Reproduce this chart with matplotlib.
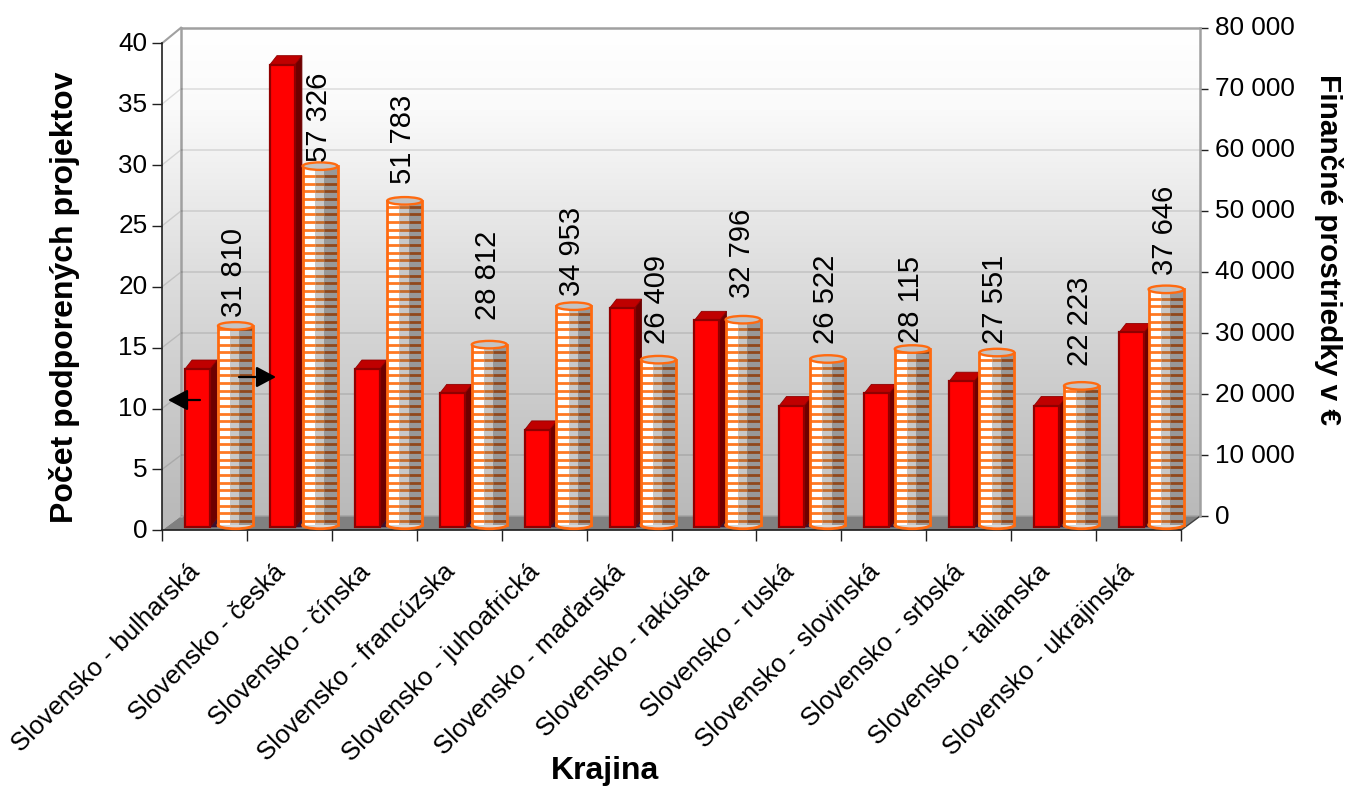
import numpy as np
import matplotlib
matplotlib.use("Agg")
import matplotlib.pyplot as plt
from matplotlib.patches import Polygon, Ellipse
from matplotlib.transforms import Affine2D, ScaledTranslation

categories = ["Slovensko - bulharská", "Slovensko - česká", "Slovensko - čínska",
              "Slovensko - francúzska", "Slovensko - juhoafrická", "Slovensko - maďarská",
              "Slovensko - rakúska", "Slovensko - ruská", "Slovensko - slovinská",
              "Slovensko - srbská", "Slovensko - talianska", "Slovensko - ukrajinská"]
project_counts = [13, 38, 13, 11, 8, 18, 17, 10, 11, 12, 10, 16]
funds_eur = [31810, 57326, 51783, 28812, 34953, 26409, 32796, 26522, 28115, 27551, 22223, 37646]
left_ticks = [0, 5, 10, 15, 20, 25, 30, 35, 40]
right_ticks = [0, 10000, 20000, 30000, 40000, 50000, 60000, 70000, 80000]
left_title = "Počet podporených projektov"
right_title = "Finančné prostriedky v €"
x_title = "Krajina"

# layout (pixels)
W, H = 1345, 787
FX0, FX1, FY0, FY1 = 162, 1181, 530.3, 43.3     # front plane
BX0, BX1, BY0, BY1 = 181, 1200, 516.2, 27.7     # back plane
CY0, CY1 = 525.0, 24.2                          # plane the cylinders stand on
label_bottom_px = [317, 162, 184, 320, 296, 344, 298, 344, 343, 344, 366, 275]

plt.rcParams["font.family"] = ["Liberation Sans", "DejaVu Sans"]
fig = plt.figure(figsize=(W / 100, H / 100), dpi=100, facecolor="white")


def axes_rect(x0, x1, ybot, ytop):
    return [x0 / W, 1 - ybot / H, (x1 - x0) / W, (ybot - ytop) / H]


# pixel canvas for the walls and floor
bg = fig.add_axes([0, 0, 1, 1], zorder=0)
bg.set_xlim(0, W)
bg.set_ylim(H, 0)
bg.axis("off")

ys = np.arange(0, H)
grad = np.interp(ys, [BY1, 110, 270, BY0], [255, 250, 222, 185])
gimg = np.repeat(grad[:, None], 3, axis=1)[:, None, :] / 255
back = bg.imshow(gimg, extent=(0, W, H, 0), aspect="auto", zorder=1, interpolation="bilinear")
back.set_clip_path(Polygon([(FX0, FY1), (BX0, BY1), (BX1, BY1), (BX1, BY0), (BX0, BY0), (FX0, FY0)],
                           transform=bg.transData))
bg.set_xlim(0, W)
bg.set_ylim(H, 0)
bg.add_patch(Polygon([(FX0, FY0), (BX0, BY0), (BX1, BY0), (FX1, FY0)], closed=True,
                     fc="#808080", ec="none", zorder=2))
for t in left_ticks[1:-1]:
    fy = FY0 + (FY1 - FY0) * t / 40
    by = BY0 + (BY1 - BY0) * t / 40
    bg.plot([FX0, BX0], [fy, by], color="black", alpha=0.12, lw=1.0, zorder=2)
bg.plot([FX0, BX0], [FY1, BY1], color="#a0a0a0", lw=1.5, zorder=2)
bg.plot([BX0, BX0], [BY1, BY0], color="#a0a0a0", lw=1.8, zorder=3)
bg.plot([FX1, BX1], [FY0, BY0], color="#404040", lw=1.0, zorder=3)

# back plane: right axis and grid
ax2 = fig.add_axes(axes_rect(BX0, BX1, BY0, BY1), zorder=1)
ax2.patch.set_alpha(0)
ax2.set_xlim(0, 12)
ax2.set_ylim(0, 80000)
ax2.yaxis.tick_right()
ax2.set_yticks(right_ticks)
ax2.set_yticklabels([f"{t:,}".replace(",", " ") for t in right_ticks], fontsize=18.8)
ax2.tick_params(axis="y", length=5.5, width=1.0, color="#202020", pad=5.5)
ax2.set_xticks([])
ax2.grid(axis="y", color="black", alpha=0.12, lw=1.1)
ax2.set_axisbelow(True)
for s in ("left", "bottom"):
    ax2.spines[s].set_visible(False)
ax2.spines["right"].set_color("#a0a0a0")
ax2.spines["right"].set_linewidth(1.8)
ax2.spines["top"].set_color("#a0a0a0")
ax2.spines["top"].set_linewidth(1.8)

# front plane: left axis and red bars
ax1 = fig.add_axes(axes_rect(FX0, FX1, FY0, FY1), zorder=2)
ax1.patch.set_alpha(0)
ax1.set_xlim(0, 12)
ax1.set_ylim(0, 40)
ax1.set_yticks(left_ticks)
ax1.set_yticklabels([str(t) for t in left_ticks], fontsize=18.8)
ax1.tick_params(axis="y", length=7.5, width=1.0, color="#202020", pad=3)
ax1.set_xticks(range(13))
ax1.set_xticklabels([])
ax1.tick_params(axis="x", length=8, width=1.0, color="#202020")
for s in ("top", "right"):
    ax1.spines[s].set_visible(False)
for s in ("left", "bottom"):
    ax1.spines[s].set_color("#202020")
    ax1.spines[s].set_linewidth(1.2)

raise_labels = ScaledTranslation(0, 2 / 100, fig.dpi_scale_trans)
for a in (ax1, ax2):
    for lab in a.get_yticklabels():
        lab.set_transform(lab.get_transform() + raise_labels)

ux = (FX1 - FX0) / 12
uy = (FY0 - FY1) / 40
tr_bar = ax1.transData + Affine2D().translate(0, 3)
bar_w = 25 / ux
dx, dy = 7 / ux, 9 / uy
for i, v in enumerate(project_counts):
    left = i + (197.5 - FX0 - 12.5) / ux
    right = left + bar_w
    ax1.add_patch(Polygon([(right, 0), (right + dx, dy), (right + dx, 0)], fc="#3a1030", ec="none",
                          transform=tr_bar, zorder=2))
    ax1.add_patch(Polygon([(right, 0), (right + dx, dy), (right + dx, v + dy), (right, v)],
                          fc="#6e0000", ec="#6e0000", lw=0.6, transform=tr_bar, zorder=3))
    ax1.add_patch(Polygon([(left, v), (left + dx, v + dy), (right + dx, v + dy), (right, v)],
                          fc="#bf0000", ec="#8f0000", lw=0.6, transform=tr_bar, zorder=3))
    ax1.bar(left, v, width=bar_w, align="edge", color="#ff0000", edgecolor="#8f0000", lw=1.6,
            transform=tr_bar, zorder=4)
ax1.set_xlim(0, 12)
ax1.set_ylim(0, 40)

for i, c in enumerate(categories):
    ax1.annotate(c, xy=(i + 0.5, 0), xycoords=("data", "axes fraction"), xytext=(-8, -38),
                 textcoords="offset pixels", rotation=45, rotation_mode="anchor",
                 ha="right", va="center", fontsize=18.6, color="#000000")

# cylinders on their own plane of the value scale
ax3 = fig.add_axes(axes_rect(BX0, BX1, CY0, CY1), zorder=3)
ax3.patch.set_alpha(0)
ax3.axis("off")
ax3.set_xlim(0, 12)
ax3.set_ylim(0, 80000)
uxb = (BX1 - BX0) / 12
uyb = (CY0 - CY1) / 80000
cw = 35 / uxb
eh = 7.5 / uyb
orange = "#ff6a10"
bands = ((0, .35, "#ffffff", "#ff7a24"), (.35, .61, "#c8c8c8", "#c46c2c"), (.61, 1, "#989898", "#90481c"))
for i, v in enumerate(funds_eur):
    xc = (235.5 + 84.6 * i - BX0) / uxb
    xl = xc - cw / 2
    stripes = np.arange(4 / uyb, v - 3 / uyb, 7.67 / uyb)
    ax3.add_patch(Ellipse((xc, 0), cw, eh, fc="#d8d8d8", ec=orange, lw=2.0, clip_on=False, zorder=2))
    for f0, f1, col, stripe_col in bands:
        ax3.bar(xl + f0 * cw, v, width=(f1 - f0) * cw, align="edge", color=col,
                lw=0, clip_on=False, zorder=3)
        ax3.hlines(stripes, xl + f0 * cw, xl + f1 * cw, color=stripe_col, lw=2.0, clip_on=False, zorder=4)
    ax3.plot([xl, xl], [0, v], color=orange, lw=2.0, clip_on=False, zorder=5)
    ax3.plot([xl + cw, xl + cw], [0, v], color=orange, lw=2.0, clip_on=False, zorder=5)
    ax3.add_patch(Ellipse((xc, v), cw, eh, fc="#c4c4c4", ec=orange, lw=1.7, clip_on=False, zorder=6))
    ax3.text((234 + 84.6 * i - BX0) / uxb, (CY0 - label_bottom_px[i]) / uyb,
             f"{v:,}".replace(",", " "), rotation=90, ha="center", va="bottom",
             fontsize=21, color="black", zorder=8, clip_on=False)
ax3.set_xlim(0, 12)
ax3.set_ylim(0, 80000)

for tip, tail in (((168, 400), (200, 400)), ((276, 377), (239, 377))):
    ax3.annotate("", xy=(tip[0], H - tip[1]), xytext=(tail[0], H - tail[1]), xycoords="figure pixels",
                 textcoords="figure pixels", zorder=9,
                 arrowprops=dict(arrowstyle="-|>,head_width=0.32,head_length=0.6", color="black", lw=1.6,
                                 shrinkA=0, shrinkB=0, mutation_scale=20))

# titles
fig.text(65 / W, 1 - 297.5 / H, left_title, rotation=90, ha="center", va="center",
         fontsize=23, fontweight="bold")
fig.text(1328 / W, 1 - 249 / H, right_title, rotation=270, ha="center", va="center",
         fontsize=21.4, fontweight="bold")
fig.text(605 / W, 1 - 771 / H, x_title, ha="center", va="center", fontsize=23, fontweight="bold")

fig.savefig("out.png", dpi=100, facecolor="white")
